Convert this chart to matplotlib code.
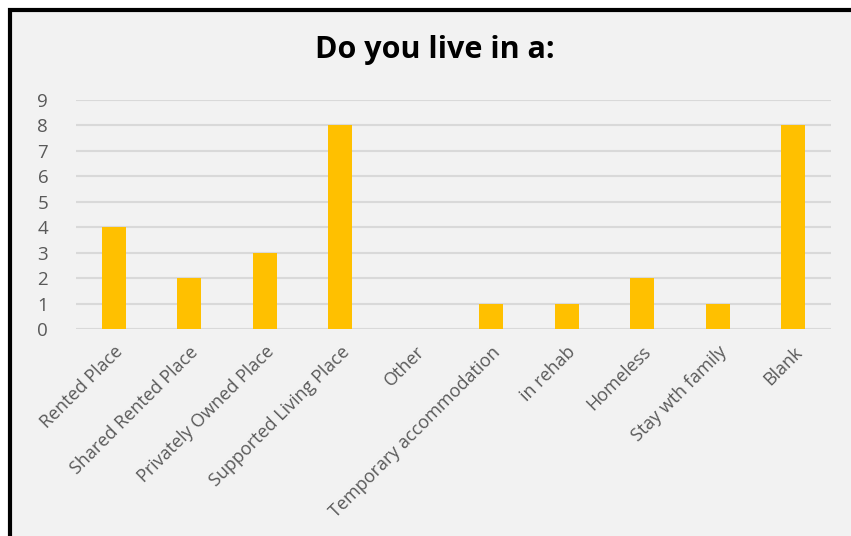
import matplotlib.pyplot as plt
from matplotlib.patches import Rectangle

categories = ["Rented Place", "Shared Rented Place", "Privately Owned Place",
              "Supported Living Place", "Other", "Temporary accommodation",
              "in rehab", "Homeless", "Stay wth family", "Blank"]
counts = [4, 2, 3, 8, 0, 1, 1, 2, 1, 8]
yticks = list(range(0, 10))

W, H = 851, 536
fig = plt.figure(figsize=(W/100, H/100), dpi=100)
fig.patch.set_facecolor("white")

# chart area background with black frame (top and left visible)
fig.patches.append(Rectangle((10/W, -0.1), 1.2, 1 - 10/H + 0.1, transform=fig.transFigure,
                             facecolor="#F2F2F2", edgecolor="black", linewidth=3, zorder=-10))

ax = fig.add_axes([76/W, 1 - 329/H, 755/W, 229/H])
ax.set_facecolor("none")
ax.bar(range(len(categories)), counts, width=0.32, color="#FFC000", zorder=3)
ax.set_xlim(-0.5, len(categories) - 0.5)
ax.set_ylim(0, 9)
ax.set_yticks(yticks)
ax.grid(axis="y", color="#D9D9D9", linewidth=1.5, zorder=0)
for s in ax.spines.values():
    s.set_visible(False)
ax.tick_params(length=0)
ax.tick_params(axis="y", labelsize=13.5, labelcolor="#595959", pad=20)
ax.tick_params(axis="x", pad=10)
ax.set_xticks(range(len(categories)))
ax.set_xticklabels(categories, rotation=45, ha="right", rotation_mode="anchor",
                   fontsize=13, color="#595959", family="Open Sans")
for t in ax.get_yticklabels():
    t.set_family("Open Sans")

fig.text(435/W, 1 - 50/H, "Do you live in a:", ha="center", va="center",
         fontsize=22, fontweight="bold", family="Open Sans")

fig.savefig("out.png", dpi=100)
